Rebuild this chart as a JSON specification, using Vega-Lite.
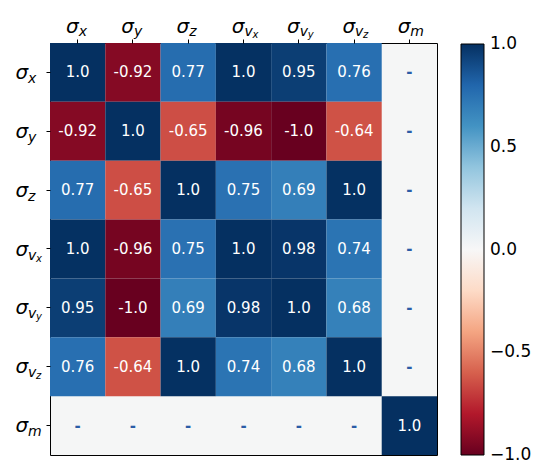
{
  "$schema": "https://vega.github.io/schema/vega-lite/v6.json",
  "autosize": {"type": "none"},
  "padding": {"left": 50, "top": 43, "right": 104, "bottom": 7},
  "width": 387,
  "height": 412,
  "config": {
    "view": {"stroke": "black", "strokeWidth": 1, "fill": "#f5f6f6"},
    "axis": {"labelFont": "DejaVu Sans", "labelColor": "black", "tickColor": "black", "labelOverlap": false, "labelFlush": false, "grid": false, "title": null, "labelAngle": 0}
  },
  "data": {"values": [
    {"r": "x", "c": "x", "v": 1.0, "t": "1.0"},
    {"r": "x", "c": "y", "v": -0.92, "t": "-0.92"},
    {"r": "x", "c": "z", "v": 0.77, "t": "0.77"},
    {"r": "x", "c": "vx", "v": 0.998, "t": "1.0"},
    {"r": "x", "c": "vy", "v": 0.95, "t": "0.95"},
    {"r": "x", "c": "vz", "v": 0.76, "t": "0.76"},
    {"r": "x", "c": "m", "v": null, "t": "-"},
    {"r": "y", "c": "x", "v": -0.92, "t": "-0.92"},
    {"r": "y", "c": "y", "v": 1.0, "t": "1.0"},
    {"r": "y", "c": "z", "v": -0.65, "t": "-0.65"},
    {"r": "y", "c": "vx", "v": -0.96, "t": "-0.96"},
    {"r": "y", "c": "vy", "v": -0.998, "t": "-1.0"},
    {"r": "y", "c": "vz", "v": -0.64, "t": "-0.64"},
    {"r": "y", "c": "m", "v": null, "t": "-"},
    {"r": "z", "c": "x", "v": 0.77, "t": "0.77"},
    {"r": "z", "c": "y", "v": -0.65, "t": "-0.65"},
    {"r": "z", "c": "z", "v": 1.0, "t": "1.0"},
    {"r": "z", "c": "vx", "v": 0.75, "t": "0.75"},
    {"r": "z", "c": "vy", "v": 0.69, "t": "0.69"},
    {"r": "z", "c": "vz", "v": 0.998, "t": "1.0"},
    {"r": "z", "c": "m", "v": null, "t": "-"},
    {"r": "vx", "c": "x", "v": 0.998, "t": "1.0"},
    {"r": "vx", "c": "y", "v": -0.96, "t": "-0.96"},
    {"r": "vx", "c": "z", "v": 0.75, "t": "0.75"},
    {"r": "vx", "c": "vx", "v": 1.0, "t": "1.0"},
    {"r": "vx", "c": "vy", "v": 0.98, "t": "0.98"},
    {"r": "vx", "c": "vz", "v": 0.74, "t": "0.74"},
    {"r": "vx", "c": "m", "v": null, "t": "-"},
    {"r": "vy", "c": "x", "v": 0.95, "t": "0.95"},
    {"r": "vy", "c": "y", "v": -0.998, "t": "-1.0"},
    {"r": "vy", "c": "z", "v": 0.69, "t": "0.69"},
    {"r": "vy", "c": "vx", "v": 0.98, "t": "0.98"},
    {"r": "vy", "c": "vy", "v": 1.0, "t": "1.0"},
    {"r": "vy", "c": "vz", "v": 0.68, "t": "0.68"},
    {"r": "vy", "c": "m", "v": null, "t": "-"},
    {"r": "vz", "c": "x", "v": 0.76, "t": "0.76"},
    {"r": "vz", "c": "y", "v": -0.64, "t": "-0.64"},
    {"r": "vz", "c": "z", "v": 0.998, "t": "1.0"},
    {"r": "vz", "c": "vx", "v": 0.74, "t": "0.74"},
    {"r": "vz", "c": "vy", "v": 0.68, "t": "0.68"},
    {"r": "vz", "c": "vz", "v": 1.0, "t": "1.0"},
    {"r": "vz", "c": "m", "v": null, "t": "-"},
    {"r": "m", "c": "x", "v": null, "t": "-"},
    {"r": "m", "c": "y", "v": null, "t": "-"},
    {"r": "m", "c": "z", "v": null, "t": "-"},
    {"r": "m", "c": "vx", "v": null, "t": "-"},
    {"r": "m", "c": "vy", "v": null, "t": "-"},
    {"r": "m", "c": "vz", "v": null, "t": "-"},
    {"r": "m", "c": "m", "v": 1.0, "t": "1.0"}
  ]},
  "layer": [
    {
      "transform": [{"filter": "isValid(datum.v)"}],
      "mark": {"type": "rect"},
      "encoding": {
        "x": {"field": "c", "type": "nominal", "scale": {"domain": ["x", "y", "z", "vx", "vy", "vz", "m"]},
          "axis": {"orient": "top", "labelExpr": "'σ'", "labelFontSize": 20, "labelFontStyle": "italic", "labelAlign": "right", "labelBaseline": "alphabetic", "labelPadding": 7, "labelOffset": 1, "ticks": true, "tickSize": 4, "domain": false}},
        "y": {"field": "r", "type": "nominal", "scale": {"domain": ["x", "y", "z", "vx", "vy", "vz", "m"]},
          "axis": {"orient": "left", "labelExpr": "'σ'", "labelFontSize": 20, "labelFontStyle": "italic", "labelAlign": "left", "labelBaseline": "alphabetic", "labelPadding": 31, "labelOffset": 6.5, "ticks": true, "tickSize": 4, "domain": false}},
        "color": {"field": "v", "type": "quantitative",
          "scale": {"domain": [-1, -0.8, -0.6, -0.4, -0.2, 0, 0.2, 0.4, 0.6, 0.8, 1],
                    "range": ["#67001f", "#b2182b", "#d6604d", "#f4a582", "#fddbc7", "#f7f7f7", "#d1e5f0", "#92c5de", "#4393c3", "#2166ac", "#053061"],
                    "interpolate": "rgb"},
          "legend": {"orient": "none", "legendX": 411, "legendY": 1, "title": null, "direction": "vertical", "gradientLength": 411, "gradientThickness": 23, "gradientStrokeColor": "black", "gradientStrokeWidth": 1, "values": [-1, -0.5, 0, 0.5, 1], "labelExpr": "replace(format(datum.value, '.1f'), '-', '−')", "labelFontSize": 17, "labelFont": "DejaVu Sans", "labelColor": "black", "labelOffset": 6, "labelOverlap": false, "padding": 0,
            "encode": {"labels": {"update": {"baseline": {"value": "middle"}}}}}}
      }
    },
    {
      "transform": [{"filter": "isValid(datum.v)"}],
      "mark": {"type": "text", "font": "DejaVu Sans", "fontSize": 15, "color": "white", "baseline": "middle", "align": "center"},
      "encoding": {
        "x": {"field": "c", "type": "nominal", "scale": {"domain": ["x", "y", "z", "vx", "vy", "vz", "m"]},
          "axis": {"orient": "top", "labelExpr": "substring(datum.value, 0, 1)", "labelFontSize": 14, "labelFontStyle": "italic", "labelAlign": "left", "labelBaseline": "alphabetic", "labelPadding": 7.5, "labelOffset": 1, "ticks": false, "tickSize": 0, "domain": false}},
        "y": {"field": "r", "type": "nominal", "scale": {"domain": ["x", "y", "z", "vx", "vy", "vz", "m"]},
          "axis": {"orient": "left", "labelExpr": "substring(datum.value, 0, 1)", "labelFontSize": 14, "labelFontStyle": "italic", "labelAlign": "left", "labelBaseline": "alphabetic", "labelPadding": 22.5, "labelOffset": 10.5, "ticks": false, "tickSize": 0, "domain": false}},
        "text": {"field": "t", "type": "nominal"}
      }
    },
    {
      "transform": [{"filter": "!isValid(datum.v)"}],
      "mark": {"type": "text", "font": "DejaVu Sans", "fontSize": 15, "color": "#2b5ca6", "baseline": "middle", "align": "center", "fontWeight": "bold"},
      "encoding": {
        "x": {"field": "c", "type": "nominal", "scale": {"domain": ["x", "y", "z", "vx", "vy", "vz", "m"]},
          "axis": {"orient": "top", "labelExpr": "length(datum.value) > 1 ? substring(datum.value, 1, 2) : ''", "labelFontSize": 10, "labelFontStyle": "italic", "labelAlign": "left", "labelBaseline": "alphabetic", "labelPadding": 5.5, "labelOffset": 9, "ticks": false, "tickSize": 0, "domain": false}},
        "y": {"field": "r", "type": "nominal", "scale": {"domain": ["x", "y", "z", "vx", "vy", "vz", "m"]},
          "axis": {"orient": "left", "labelExpr": "length(datum.value) > 1 ? substring(datum.value, 1, 2) : ''", "labelFontSize": 10, "labelFontStyle": "italic", "labelAlign": "left", "labelBaseline": "alphabetic", "labelPadding": 14.5, "labelOffset": 12.5, "ticks": false, "tickSize": 0, "domain": false}},
        "text": {"field": "t", "type": "nominal"}
      }
    }
  ],
  "resolve": {"axis": {"x": "independent", "y": "independent"}}
}
